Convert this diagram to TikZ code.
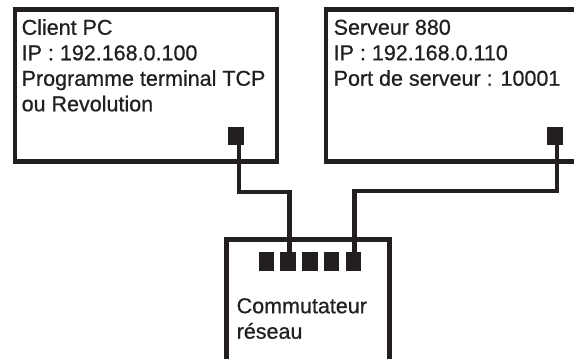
\documentclass[tikz,border=0pt]{standalone}
\usepackage{fontspec}
\setmainfont{Liberation Sans}
\newfontfamily\medfont[FakeBold=0.7]{Liberation Sans}
\definecolor{ink}{HTML}{231F20}
\begin{document}
\begin{tikzpicture}[x=1pt,y=-1pt,
  box/.style={draw=ink, line width=4.5pt, rectangle, inner sep=0pt, outer sep=0pt},
  port/.style={fill=ink, rectangle, inner sep=0pt, outer sep=0pt, minimum width=15.5pt, minimum height=18.5pt},
  wire/.style={draw=ink, line width=4.2pt},
  label/.style={text=ink, anchor=north west, inner sep=0pt, align=left, font=\medfont\fontsize{21.5}{25.5}\selectfont}]
\useasboundingbox (0,0) rectangle (574,359);
\clip (0,0) rectangle (574,359);
% boxes
\node[box, minimum width=262pt, minimum height=152pt] (pc) at (146,85.5) {};
\node[box, minimum width=274pt, minimum height=152pt] (srv) at (463,85.5) {};
\node[box, minimum width=163pt, minimum height=150pt] (sw) at (308,314.5) {};
% texts
\node[label] (pctext) at (21.5,19) {Client PC\\IP : 192.168.0.100\\Programme terminal TCP\\ou Revolution};
\node[label] (srvtext) at (333.5,19.5) {Serveur 880\\IP : 192.168.0.110\\Port de serveur : 10001};
\node[label] (swtext) at (236.5,298) {Commutateur\\réseau};
% ports
\node[port] (pcport) at (235.8,136) {};
\node[port] (srvport) at (555,136) {};
\foreach \i/\x in {1/266.5,2/288,3/310,4/331.5,5/353.5}
  \node[port] (sp\i) at (\x,261.5) {};
% wires
\draw[wire] ([xshift=3pt]pcport.south) -- ++(0,46.5) -| ([xshift=1.5pt]sp2.north);
\draw[wire] ([xshift=2pt]srvport.south) -- ++(0,46) -| ([xshift=1pt]sp5.north);
\end{tikzpicture}
\end{document}
